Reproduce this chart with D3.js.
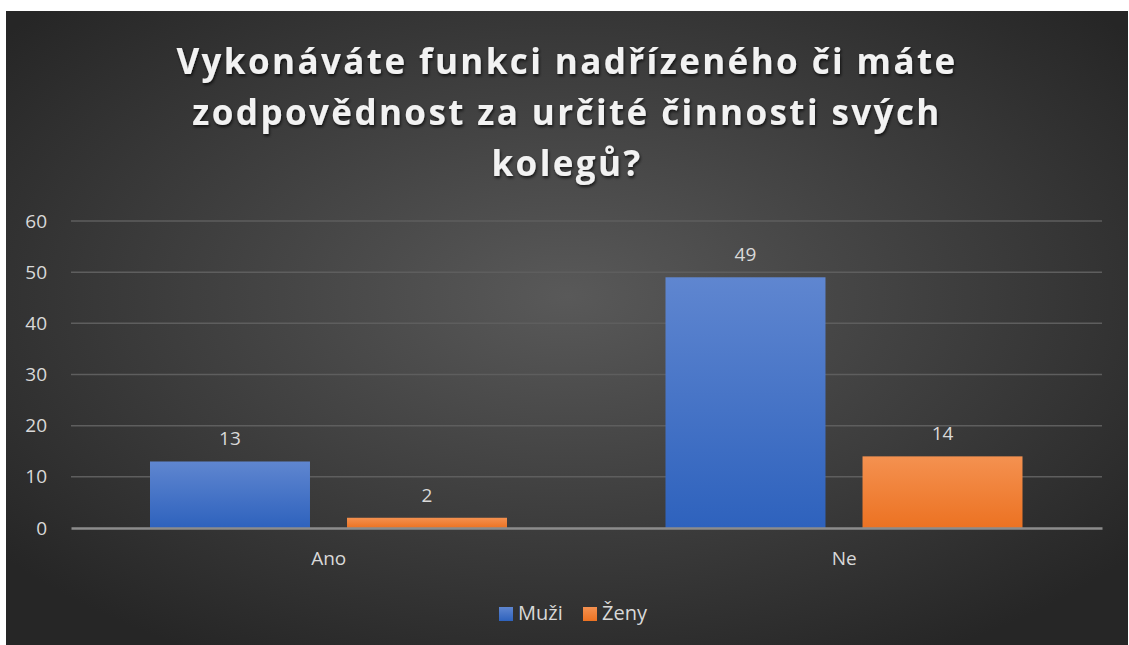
<!DOCTYPE html>
<html>
<head>
<meta charset="utf-8">
<script src="https://cdn.jsdelivr.net/npm/d3@7"></script>
<style>
  body { margin: 0; background: #fff; }
  svg { display: block; font-family: "Open Sans", "Noto Sans", sans-serif; }
</style>
</head>
<body>
<svg width="1129" height="645"></svg>
<script>
const width = 1129;
const height = 645;
const margin = { top: 221, right: 27, bottom: 117, left: 71 };

// data
const categories = ["Ano", "Ne"];
const seriesNames = ["Muži", "Ženy"];
const muzi = [13, 49];
const zeny = [2, 14];
const yTicks = [0, 10, 20, 30, 40, 50, 60];
const titleLines = ["Vykonáváte funkci nadřízeného či máte", "zodpovědnost za určité činnosti svých", "kolegů?"];

const data = categories.map((c, i) => ({ cat: c, values: [muzi[i], zeny[i]] }));

const svg = d3.select("svg");
const defs = svg.append("defs");

const bg = defs.append("radialGradient").attr("id", "bg").attr("cx", "50%").attr("cy", "45%").attr("r", "65%");
bg.append("stop").attr("offset", "0%").attr("stop-color", "#595959");
bg.append("stop").attr("offset", "100%").attr("stop-color", "#262626");

const colors = [["#5f86d0", "#2e62bd"], ["#f49150", "#ec7222"]];
colors.forEach((c, i) => {
  const g = defs.append("linearGradient").attr("id", "g" + i).attr("x1", 0).attr("y1", 0).attr("x2", 0).attr("y2", 1);
  g.append("stop").attr("offset", "0%").attr("stop-color", c[0]);
  g.append("stop").attr("offset", "100%").attr("stop-color", c[1]);
});

const shadow = defs.append("filter").attr("id", "ts").attr("x", "-10%").attr("y", "-30%").attr("width", "120%").attr("height", "160%");
shadow.append("feDropShadow").attr("dx", 1).attr("dy", 2).attr("stdDeviation", 1.5).attr("flood-color", "#000").attr("flood-opacity", 0.7);

svg.append("rect").attr("x", 6).attr("y", 11).attr("width", 1122).attr("height", 634).attr("fill", "url(#bg)");

// title
svg.append("g").attr("filter", "url(#ts)")
  .selectAll("text").data(titleLines).enter().append("text")
  .attr("x", 567)
  .attr("y", (d, i) => 74 + i * 51)
  .attr("text-anchor", "middle")
  .attr("fill", "#f2f2f2")
  .attr("font-size", 35)
  .attr("font-weight", "bold")
  .attr("letter-spacing", 2.4)
  .text(d => d);

const x0 = d3.scaleBand().domain(categories).range([margin.left, width - margin.right]);
const x1 = d3.scaleBand().domain([0, 1]).range([79, x0.bandwidth() - 79.5]).paddingInner(0.188);
const y = d3.scaleLinear().domain([0, 60]).range([height - margin.bottom, margin.top]);

// gridlines
svg.append("g").selectAll("line").data(yTicks.filter(d => d > 0)).enter().append("line")
  .attr("x1", margin.left).attr("x2", width - margin.right)
  .attr("y1", d => y(d)).attr("y2", d => y(d))
  .attr("stroke", "#5e5e5e").attr("stroke-width", 1.5);

// y axis
const yAxis = d3.axisLeft(y).tickValues(yTicks).tickSize(0).tickPadding(24);
const ya = svg.append("g").attr("transform", `translate(${margin.left},0)`).call(yAxis);
ya.select(".domain").remove();
ya.selectAll("text").attr("fill", "#d9d9d9").attr("font-size", 19).attr("font-family", "Open Sans");

// bars
const groups = svg.append("g").selectAll("g").data(data).enter().append("g")
  .attr("transform", d => `translate(${x0(d.cat)},0)`);

groups.selectAll("rect").data(d => d.values).enter().append("rect")
  .attr("x", (d, i) => x1(i))
  .attr("y", d => y(d))
  .attr("width", x1.bandwidth())
  .attr("height", d => y(0) - y(d))
  .attr("fill", (d, i) => `url(#g${i})`);

groups.selectAll("text").data(d => d.values).enter().append("text")
  .attr("x", (d, i) => x1(i) + x1.bandwidth() / 2)
  .attr("y", d => y(d) - 16)
  .attr("text-anchor", "middle")
  .attr("fill", "#d9d9d9")
  .attr("font-size", 19)
  .text(d => d);

// x axis
const xAxis = d3.axisBottom(x0).tickSize(0).tickPadding(24);
const xa = svg.append("g").attr("transform", `translate(0,${y(0)})`).call(xAxis);
xa.select(".domain").attr("stroke", "#8c8c8c").attr("stroke-width", 2.5);
xa.selectAll("text").attr("fill", "#d9d9d9").attr("font-size", 19).attr("font-family", "Open Sans");

// legend
const legend = svg.append("g").attr("transform", "translate(499,613)");
const items = legend.selectAll("g").data(seriesNames).enter().append("g")
  .attr("transform", (d, i) => `translate(${i * 84},0)`);
items.append("rect").attr("x", 0).attr("y", -6).attr("width", 14).attr("height", 14)
  .attr("fill", (d, i) => `url(#g${i})`);
items.append("text").attr("x", 19).attr("y", 7).attr("fill", "#d9d9d9").attr("font-size", 20).text(d => d);
</script>
</body>
</html>
